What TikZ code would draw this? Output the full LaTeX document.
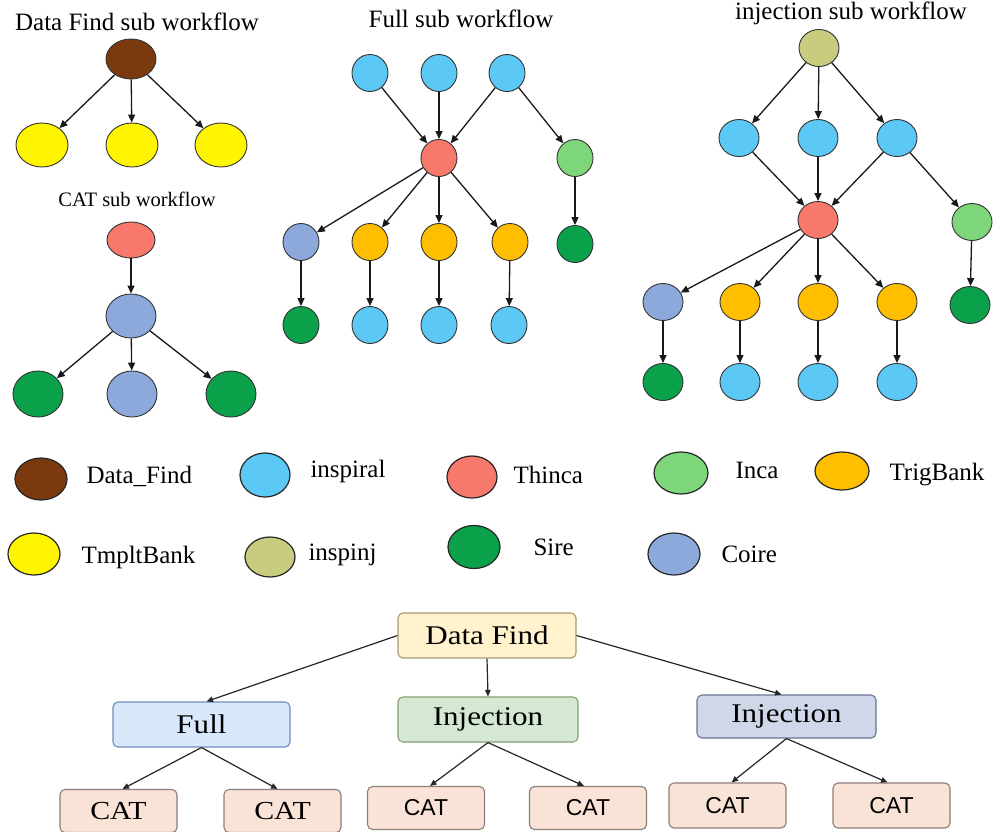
\documentclass[tikz,border=0pt]{standalone}
\usepackage{fontspec}
\setmainfont{Liberation Serif}
\newfontfamily\boxserif[FakeStretch=1.15]{Liberation Serif}
\newfontfamily\boxsans{Liberation Sans}
\usetikzlibrary{shapes.geometric,arrows.meta,calc}

% job colours
\definecolor{cDataFind}{HTML}{7A3A0E}
\definecolor{cTmplt}{HTML}{FFF500}
\definecolor{cThinca}{HTML}{F7796C}
\definecolor{cCoire}{HTML}{8DA9DB}
\definecolor{cSire}{HTML}{0BA14B}
\definecolor{cInspiral}{HTML}{5BC8F5}
\definecolor{cInca}{HTML}{7ED67A}
\definecolor{cTrig}{HTML}{FFBF00}
\definecolor{cInspinj}{HTML}{C8CC7E}
% workflow box colours
\definecolor{bDFfill}{HTML}{FFF2CC}\definecolor{bDFdraw}{HTML}{A89A70}
\definecolor{bFullfill}{HTML}{DAE8FC}\definecolor{bFulldraw}{HTML}{6C8EBF}
\definecolor{bInjAfill}{HTML}{D5E8D4}\definecolor{bInjAdraw}{HTML}{82A070}
\definecolor{bInjBfill}{HTML}{D0D7E8}\definecolor{bInjBdraw}{HTML}{6A7594}
\definecolor{bCATfill}{HTML}{F9E3D6}\definecolor{bCATdraw}{HTML}{8C7F7A}

\tikzset{
  job/.style={ellipse, draw=black!80, line width=0.9pt, inner sep=0pt},
  sz/.style n args={2}{minimum width=#1pt, minimum height=#2pt},
  datafind/.style={fill=cDataFind},
  tmpltbank/.style={fill=cTmplt},
  thinca/.style={fill=cThinca},
  coire/.style={fill=cCoire},
  sire/.style={fill=cSire},
  inspiral/.style={fill=cInspiral},
  inca/.style={fill=cInca},
  trigbank/.style={fill=cTrig},
  inspinj/.style={fill=cInspinj},
  flow/.style={-{Triangle[length=8pt,width=7pt]}, line width=1.3pt, black!90},
  title/.style={anchor=base, font=\fontsize{25}{30}\selectfont},
  legtext/.style={anchor=base west, font=\fontsize{25}{30}\selectfont},
  legjob/.style={job, line width=1.2pt, draw=black!85},
  wbox/.style={rectangle, rounded corners=5pt, line width=1.1pt, inner sep=0pt,
               font=\boxserif\fontsize{27}{32}\selectfont},
  catbox/.style={wbox, fill=bCATfill, draw=bCATdraw, minimum width=117pt, minimum height=43pt},
  link/.style={-{Triangle[length=6.5pt,width=5.5pt]}, line width=1.2pt, black!85},
}

\begin{document}
\begin{tikzpicture}[x=1pt,y=-1pt]
\useasboundingbox[fill=white] (0,0) rectangle (994,831);

% ---------------- Data Find sub workflow ----------------
\node[title] (tDF) at (137,30) {Data Find sub workflow};
\node[job,sz={50}{40},datafind] (d0) at (131,59) {};
\node[job,sz={52}{44},tmpltbank] (d1) at (42,145) {};
\node[job,sz={52}{44},tmpltbank] (d2) at (132,145) {};
\node[job,sz={52}{44},tmpltbank] (d3) at (221,145) {};
\foreach \t in {d1,d2,d3} \draw[flow] (d0) -- (\t);

% ---------------- CAT sub workflow ----------------
\node[title, font=\fontsize{20.5}{24}\selectfont] (tCAT) at (137,206) {CAT sub workflow};
\node[job,sz={48}{36},thinca] (c0) at (131,240) {};
\node[job,sz={50}{44},coire] (c1) at (131,316) {};
\node[job,sz={50}{46},sire] (c2) at (38,394) {};
\node[job,sz={50}{46},coire] (c3) at (132,394) {};
\node[job,sz={50}{46},sire] (c4) at (231,394) {};
\draw[flow] (c0) -- (c1);
\foreach \t in {c2,c3,c4} \draw[flow] (c1) -- (\t);

% ---------------- Full sub workflow ----------------
\node[title] (tFull) at (461,27) {Full sub workflow};
\begin{scope}[every node/.append style={job,sz={36}{37}}]
  \node[inspiral] (f1) at (370,73) {};
  \node[inspiral] (f2) at (439,73) {};
  \node[inspiral] (f3) at (507,73) {};
  \node[thinca]   (fT) at (439,158) {};
  \node[inca]     (fI) at (575,158) {};
  \node[coire]    (fC) at (301,242) {};
  \node[trigbank] (fg1) at (370,242) {};
  \node[trigbank] (fg2) at (439,242) {};
  \node[trigbank] (fg3) at (510,242) {};
  \node[sire]     (fS) at (575,244) {};
  \node[sire]     (fC2) at (301,325) {};
  \node[inspiral] (fr1) at (370,325) {};
  \node[inspiral] (fr2) at (439,325) {};
  \node[inspiral] (fr3) at (509,325) {};
\end{scope}
\foreach \s in {f1,f2,f3} \draw[flow] (\s) -- (fT);
\draw[flow] (f3) -- (fI);
\foreach \t in {fC,fg1,fg2,fg3} \draw[flow] (fT) -- (\t);
\draw[flow] (fI) -- (fS);
\draw[flow] (fC) -- (fC2);
\draw[flow] (fg1) -- (fr1);
\draw[flow] (fg2) -- (fr2);
\draw[flow] (fg3) -- (fr3);

% ---------------- injection sub workflow ----------------
\node[title] (tInj) at (851,19) {injection sub workflow};
\begin{scope}[every node/.append style={job,sz={40}{37}}]
  \node[inspinj]  (i0) at (819,48) {};
  \node[inspiral] (i1) at (739,138) {};
  \node[inspiral] (i2) at (818,138) {};
  \node[inspiral] (i3) at (897,138) {};
  \node[thinca]   (iT) at (818,220) {};
  \node[inca]     (iI) at (972,222) {};
  \node[coire]    (iC) at (663,302) {};
  \node[trigbank] (ig1) at (740,302) {};
  \node[trigbank] (ig2) at (818,302) {};
  \node[trigbank] (ig3) at (897,302) {};
  \node[sire]     (iS) at (970,305) {};
  \node[sire]     (iC2) at (663,382) {};
  \node[inspiral] (ir1) at (740,382) {};
  \node[inspiral] (ir2) at (818,382) {};
  \node[inspiral] (ir3) at (897,382) {};
\end{scope}
\foreach \t in {i1,i2,i3} \draw[flow] (i0) -- (\t);
\foreach \s in {i1,i2,i3} \draw[flow] (\s) -- (iT);
\draw[flow] (i3) -- (iI);
\foreach \t in {iC,ig1,ig2,ig3} \draw[flow] (iT) -- (\t);
\draw[flow] (iI) -- (iS);
\draw[flow] (iC) -- (iC2);
\draw[flow] (ig1) -- (ir1);
\draw[flow] (ig2) -- (ir2);
\draw[flow] (ig3) -- (ir3);

% ---------------- legend ----------------
\node[legjob,sz={52}{42},datafind] (lDF) at (41,479) {};
\node[legtext] (lDFt) at (83,483) {Data\_Find};
\node[legjob,sz={50}{44},inspiral] (lIsp) at (265,475) {};
\node[legtext] (lIspt) at (307,477) {inspiral};
\node[legjob,sz={50}{42},thinca] (lTh) at (472,477) {};
\node[legtext] (lTht) at (510,483) {Thinca};
\node[legjob,sz={54}{42},inca] (lInc) at (681,473) {};
\node[legtext] (lInct) at (732,478) {Inca};
\node[legjob,sz={54}{38},trigbank] (lTrg) at (842,471) {};
\node[legtext] (lTrgt) at (886,480) {TrigBank};

\node[legjob,sz={52}{42},tmpltbank] (lTmp) at (34,554) {};
\node[legtext] (lTmpt) at (78,563) {TmpltBank};
\node[legjob,sz={50}{40},inspinj] (lInj) at (270,557) {};
\node[legtext] (lInjt) at (305,560) {inspinj};
\node[legjob,sz={52}{43},sire] (lSi) at (474,547) {};
\node[legtext] (lSit) at (530,555) {Sire};
\node[legjob,sz={52}{42},coire] (lCo) at (674,554) {};
\node[legtext] (lCot) at (718,562) {Coire};

% ---------------- top-level workflow ----------------
\node[wbox, fill=bDFfill, draw=bDFdraw, minimum width=178pt, minimum height=45pt] (wDF) at (487,635.5) {Data Find};
\node[wbox, fill=bFullfill, draw=bFulldraw, minimum width=177pt, minimum height=45pt] (wFull) at (201.5,724.5) {Full};
\node[wbox, fill=bInjAfill, draw=bInjAdraw, minimum width=180pt, minimum height=45pt] (wInjA) at (488,719.5) {Injection};
\node[wbox, fill=bInjBfill, draw=bInjBdraw, minimum width=179pt, minimum height=43pt] (wInjB) at (786.5,716.5) {Injection};
\node[catbox, font=\boxserif\fontsize{26}{30}\selectfont] (cat1) at (118.5,811) {CAT};
\node[catbox, font=\boxserif\fontsize{26}{30}\selectfont] (cat2) at (282.5,811) {CAT};
\node[catbox, font=\boxsans\fontsize{23}{27}\selectfont] (cat3) at (426,808) {CAT};
\node[catbox, font=\boxsans\fontsize{23}{27}\selectfont] (cat4) at (588,808) {CAT};
\node[catbox, font=\boxsans\fontsize{23}{27}\selectfont, minimum height=45pt] (cat5) at (727.5,805.5) {CAT};
\node[catbox, font=\boxsans\fontsize{23}{27}\selectfont, minimum height=45pt] (cat6) at (891.5,805.5) {CAT};

\draw[link] (wDF.west) -- ([xshift=5pt]wFull.north);
\draw[link] (wDF.south) -- (wInjA.north);
\draw[link] (wDF.east) -- ([xshift=-5pt]wInjB.north);
\draw[link] (wFull.south) -- ([xshift=4pt]cat1.north);
\draw[link] (wFull.south) -- ([xshift=-5pt]cat2.north);
\draw[link] (wInjA.south) -- ([xshift=4pt]cat3.north);
\draw[link] (wInjA.south) -- ([xshift=-4pt]cat4.north);
\draw[link] (wInjB.south) -- ([xshift=4pt]cat5.north);
\draw[link] (wInjB.south) -- ([xshift=-4pt]cat6.north);
\end{tikzpicture}
\end{document}
